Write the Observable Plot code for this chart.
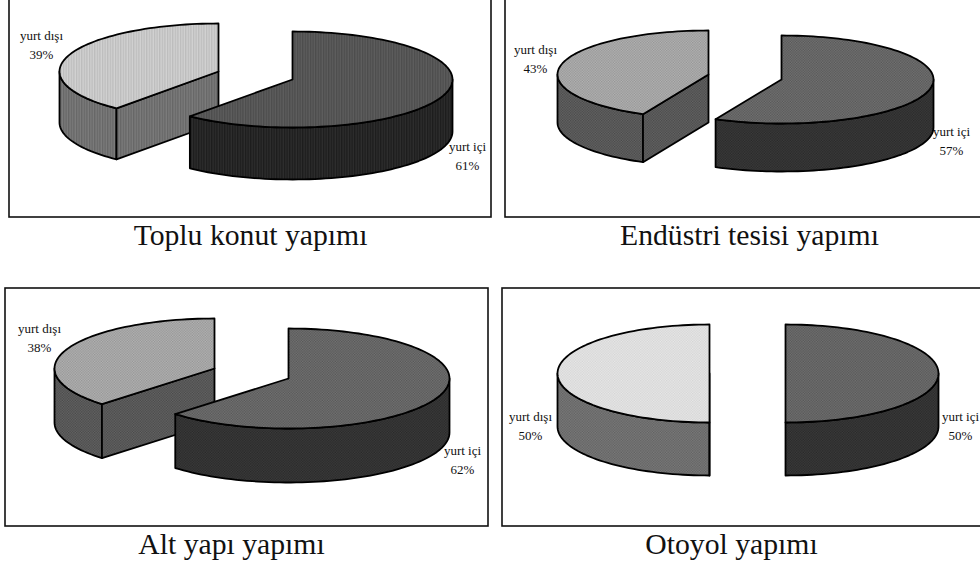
<!DOCTYPE html>
<html><head><meta charset="utf-8">
<script src="https://cdn.jsdelivr.net/npm/d3@7"></script>
<script src="https://cdn.jsdelivr.net/npm/@observablehq/plot@0.6"></script>
<style>
html,body{margin:0;padding:0;background:#fff;overflow:hidden}
svg{display:block}
g[aria-label="slice label"] text{letter-spacing:-0.6px}
</style></head><body>
<script>
const titles = ["Toplu konut yapımı","Endüstri tesisi yapımı","Alt yapı yapımı","Otoyol yapımı"];
const yurtIci = [61,57,62,50];
const yurtDisi = [39,43,38,50];

// layout (pixel space of the x/y scales), separate from the values
const layout = [
 {frame:[9,-6,491,217], title:[250,245], pattern:"stripe", adj:0.3,
  ici:{cx:292,cy:79,rx:160,ry:48,d:52,label:[467,147]},
  disi:{cx:218,cy:71,rx:159,ry:48,d:51,label:[41,36]},
  tone:{dt:["#d2d2d2","#bcbcbc"],ds:["#7c7c7c","#666"],it:["#5e5e5e","#4c4c4c"],is:["#2e2e2e","#1c1c1c"]}},
 {frame:[505,-6,990,217], title:[749,245], pattern:"dot", adj:0.5,
  ici:{cx:781,cy:79,rx:152,ry:44,d:48,label:[951,132]},
  disi:{cx:708,cy:74,rx:151,ry:44,d:48,label:[535,50]},
  tone:{dt:["#b4b4b4","#949494"],ds:["#666","#484848"],it:["#747474","#565656"],is:["#3c3c3c","#282828"]}},
 {frame:[5,288,488,526], title:[231,554], pattern:"dot", adj:1.5,
  ici:{cx:288,cy:378,rx:161,ry:50,d:54,label:[462,451]},
  disi:{cx:214,cy:368,rx:160,ry:50,d:54,label:[39,329]},
  tone:{dt:["#b4b4b4","#949494"],ds:["#666","#484848"],it:["#747474","#565656"],is:["#3c3c3c","#282828"]}},
 {frame:[502,288,990,526], title:[731,554], pattern:"dot", adj:0,
  ici:{cx:785,cy:373,rx:153,ry:49,d:53,label:[960,417]},
  disi:{cx:709,cy:373,rx:152,ry:49,d:53,label:[530,417]},
  tone:{dt:["#e8e8e8","#d4d4d4"],ds:["#7c7c7c","#606060"],it:["#727272","#565656"],is:["#3c3c3c","#282828"]}}
];

const pt = (s,deg,dy=0)=>{const a=deg*Math.PI/180;return {x:s.cx+s.rx*Math.sin(a),y:s.cy-s.ry*Math.cos(a)+dy}};
const arc = (s,a0,a1,dy=0)=>{const n=Math.max(2,Math.ceil(Math.abs(a1-a0)/2));return d3.range(n+1).map(i=>pt(s,a0+(a1-a0)*i/n,dy))};
const area = (p,fill,sw=1.8)=>Plot.line([...p,p[0]],{x:"x",y:"y",fill,stroke:"#000",strokeWidth:sw,strokeLinejoin:"round",curve:"linear"});

const marks=[];
const defs=[];
layout.forEach((L,i)=>{
  const id=k=>`url(#p${i}${k})`;
  for(const k of Object.keys(L.tone)){
    const [a,b]=L.tone[k];
    defs.push(L.pattern==="stripe"
      ? `<pattern id="p${i}${k}" width="2.6" height="2.6" patternUnits="userSpaceOnUse"><rect width="2.6" height="2.6" fill="${a}"/><rect width="1.3" height="2.6" fill="${b}"/></pattern>`
      : `<pattern id="p${i}${k}" width="2.6" height="2.6" patternUnits="userSpaceOnUse"><rect width="2.6" height="2.6" fill="${a}"/><rect width="1.3" height="1.3" fill="${b}"/><rect x="1.3" y="1.3" width="1.3" height="1.3" fill="${b}"/></pattern>`);
  }
  const [fx1,fy1,fx2,fy2]=L.frame;
  marks.push(Plot.rect([{fx1,fy1,fx2,fy2}],{x1:"fx1",y1:"fy1",x2:"fx2",y2:"fy2",fill:"#fff",stroke:"#111",strokeWidth:1.6}));

  // abroad slice: from its start angle round to 12 o'clock
  const D=L.disi, dStart=360-yurtDisi[i]*3.6+L.adj;
  const tip=pt(D,dStart);
  const lowArc=arc(D,dStart,270,D.d);
  marks.push(area([...arc(D,dStart,270),...lowArc.slice().reverse()],id("ds")));
  marks.push(area([{x:D.cx,y:D.cy},tip,{x:tip.x,y:tip.y+D.d},{x:D.cx,y:D.cy+D.d}],id("ds")));
  marks.push(area([{x:D.cx,y:D.cy},...arc(D,dStart,360)],id("dt")));

  // domestic slice: from 12 o'clock clockwise
  const I=L.ici, iEnd=yurtIci[i]*3.6+L.adj;
  marks.push(area([...arc(I,90,iEnd),...arc(I,iEnd,90,I.d)],id("is")));
  marks.push(area([{x:I.cx,y:I.cy},...arc(I,0,iEnd)],id("it")));

  marks.push(Plot.text([{x:D.label[0],y:D.label[1],t:`yurt dışı\n${yurtDisi[i]}%`},{x:I.label[0],y:I.label[1],t:`yurt içi\n${yurtIci[i]}%`}],
    {x:"x",y:"y",text:"t",fontFamily:"Liberation Serif",fontSize:13,lineHeight:1.5,lineAnchor:"top",dy:-10.5,fill:"#111",ariaLabel:"slice label"}));
  marks.push(Plot.text([{x:L.title[0],y:L.title[1],t:titles[i]}],
    {x:"x",y:"y",text:"t",fontFamily:"Liberation Serif",fontSize:29.7,lineAnchor:"bottom",dy:-1,fill:"#111",ariaLabel:"panel title"}));
});

const svg=Plot.plot({width:980,height:566,margin:0,axis:null,
  x:{type:"linear",domain:[0,980],range:[0,980]},
  y:{type:"linear",domain:[0,566],range:[0,566]},
  marks});
svg.insertAdjacentHTML("afterbegin",`<defs>${defs.join("")}</defs>`);
document.body.appendChild(svg);
</script></body></html>
